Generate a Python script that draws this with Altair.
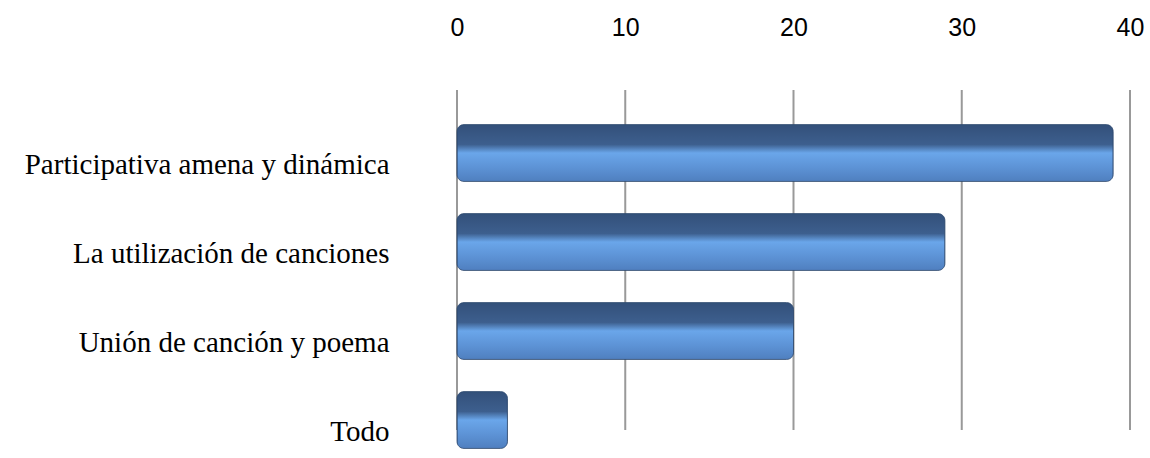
import altair as alt
import pandas as pd

categories = ["Participativa amena y dinámica", "La utilización de canciones",
              "Unión de canción y poema", "Todo"]
values = [39, 29, 20, 3]
tick_values = [0, 10, 20, 30, 40]

df = pd.DataFrame({"categoria": categories, "valor": values})
grid_df = pd.DataFrame({"t": tick_values})

W, H = 673, 343

grad = alt.Gradient(
    gradient="linear",
    x1=0, x2=0, y1=0, y2=1,
    stops=[
        alt.GradientStop(color="#33507a", offset=0),
        alt.GradientStop(color="#3d5f8e", offset=0.35),
        alt.GradientStop(color="#6aa6ea", offset=0.5),
        alt.GradientStop(color="#5d93d6", offset=0.75),
        alt.GradientStop(color="#4f7fbf", offset=1),
    ],
)

xscale = alt.Scale(domain=[0, 40], nice=False)
xaxis = alt.Axis(orient="top", values=tick_values, title=None,
                 grid=False, domain=False, ticks=False, labelPadding=75,
                 labelFont="Liberation Sans", labelFontSize=25,
                 labelColor="#000000", labelFlush=False)

grid = alt.Chart(grid_df).mark_rule(color="#999999", strokeWidth=2).encode(
    x=alt.X("t:Q", scale=xscale, axis=xaxis),
    y=alt.value(-25),
    y2=alt.value(H - 28),
)

bars = alt.Chart(df).mark_bar(
    color=grad, cornerRadius=7, stroke="#2e4a70", strokeWidth=0.8
).encode(
    x=alt.X("valor:Q", scale=xscale, axis=xaxis),
    y=alt.Y("categoria:N", sort=categories,
            scale=alt.Scale(paddingInner=0.36, paddingOuter=0.107),
            axis=alt.Axis(title=None, domain=False, ticks=False,
                          labelPadding=68, labelOffset=12,
                          labelFont="Liberation Serif", labelFontSize=29,
                          labelColor="#000000", labelLimit=600)),
)

chart = alt.layer(grid, bars).properties(
    width=W, height=H,
    autosize="none",
    padding={"left": 457, "top": 115, "right": 20, "bottom": 0},
).configure_view(stroke=None)

chart.save("out.html", embed_options={"renderer": "svg", "actions": False})
